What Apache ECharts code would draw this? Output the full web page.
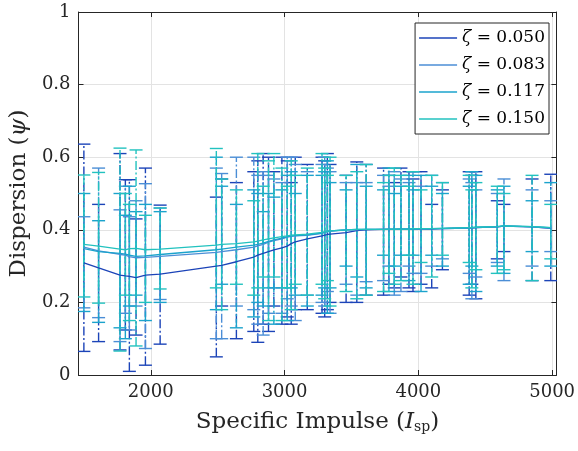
<!DOCTYPE html>
<html>
<head>
<meta charset="utf-8">
<script src="https://cdn.jsdelivr.net/npm/echarts@6/dist/echarts.min.js"></script>
<style>html,body{margin:0;padding:0;background:#fff}#c{width:578px;height:451px}</style>
</head>
<body>
<div id="c"></div>
<script>
const isp = [1500,1610,1770,1810,1840,1890,1960,2070,2490,2530,2640,2770,2800,2840,2880,2920,2980,3020,3050,3080,3170,3280,3300,3320,3340,3460,3540,3610,3740,3780,3820,3870,3930,3960,4020,4100,4180,4380,4400,4430,4590,4640,4850,4990];

const mean050 = [.309,.295,.275,.273,.272,.268,.275,.278,.300,.302,.312,.325,.330,.335,.340,.345,.350,.355,.362,.367,.375,.383,.385,.387,.388,.392,.398,.400,.401,.401,.401,.402,.402,.402,.402,.402,.403,.405,.405,.406,.408,.410,.408,.404];
const mean083 = [.352,.342,.332,.330,.326,.323,.324,.327,.338,.340,.345,.352,.356,.360,.366,.370,.375,.380,.382,.383,.385,.390,.393,.395,.396,.400,.400,.401,.401,.401,.401,.402,.402,.402,.402,.403,.403,.405,.405,.406,.408,.410,.408,.405];
const mean117 = [.348,.340,.335,.333,.330,.327,.328,.332,.345,.347,.352,.358,.360,.363,.368,.372,.377,.381,.383,.384,.386,.391,.394,.396,.397,.400,.401,.401,.401,.402,.402,.402,.402,.402,.403,.403,.404,.406,.406,.407,.409,.411,.409,.406];
const mean150 = [.360,.355,.347,.345,.348,.349,.345,.347,.358,.360,.362,.367,.369,.372,.375,.378,.381,.383,.385,.386,.388,.393,.395,.396,.397,.400,.401,.401,.401,.402,.402,.402,.402,.403,.403,.403,.404,.406,.406,.407,.409,.411,.409,.406];

const lo050 = [.065,.092,.069,.124,.010,.110,.027,.085,.050,.190,.100,.120,.090,.140,.120,.190,.140,.160,.140,.180,.180,.170,.160,.180,.200,.200,.200,.220,.220,.250,.240,.270,.240,.230,.250,.240,.290,.220,.250,.210,.320,.340,.260,.260];
const hi050 = [.636,.470,.610,.538,.538,.430,.570,.468,.490,.540,.530,.560,.590,.610,.600,.560,.600,.590,.530,.600,.580,.600,.590,.610,.580,.550,.587,.580,.570,.550,.530,.570,.560,.540,.560,.470,.510,.560,.550,.560,.480,.470,.540,.553];
const lo083 = [.185,.158,.092,.170,.124,.190,.073,.208,.100,.100,.190,.180,.140,.110,.170,.240,.170,.210,.190,.150,.220,.200,.190,.230,.170,.250,.220,.257,.260,.300,.220,.230,.300,.280,.280,.300,.320,.280,.210,.270,.310,.260,.300,.340];
const hi083 = [.436,.570,.455,.520,.436,.480,.527,.460,.570,.555,.600,.600,.550,.560,.550,.540,.530,.600,.600,.580,.560,.580,.600,.570,.560,.530,.530,.530,.550,.520,.560,.540,.530,.560,.520,.550,.530,.540,.530,.510,.500,.540,.510,.480];
const lo117 = [.175,.145,.130,.100,.190,.220,.150,.200,.180,.250,.130,.160,.200,.190,.240,.140,.240,.150,.240,.220,.190,.220,.240,.170,.240,.300,.270,.240,.330,.230,.300,.330,.260,.330,.230,.330,.300,.250,.300,.230,.300,.280,.340,.300];
const hi117 = [.500,.425,.500,.440,.520,.450,.470,.450,.600,.520,.470,.510,.500,.450,.500,.490,.510,.550,.560,.500,.550,.550,.560,.590,.530,.510,.580,.520,.510,.570,.500,.520,.550,.510,.550,.520,.500,.520,.560,.550,.510,.520,.480,.530];
const lo150 = [.215,.198,.066,.220,.150,.080,.200,.237,.240,.180,.250,.220,.240,.270,.150,.270,.150,.240,.180,.250,.220,.250,.210,.260,.190,.230,.210,.220,.230,.280,.250,.260,.330,.250,.310,.270,.330,.310,.240,.290,.280,.290,.260,.320];
const hi150 = [.551,.558,.625,.500,.470,.620,.440,.460,.624,.540,.510,.480,.610,.520,.590,.610,.570,.520,.590,.550,.570,.610,.570,.550,.600,.550,.560,.580,.530,.550,.570,.550,.520,.560,.510,.550,.530,.550,.510,.530,.520,.500,.550,.470];

const seriesNames = ['ζ = 0.050','ζ = 0.083','ζ = 0.117','ζ = 0.150'];
const xTicks = [2000,3000,4000,5000];

const colors = ['#1c44b8','#4b8ed6','#1ba3cc','#22c2bf'];
const means = [mean050, mean083, mean117, mean150];
const los = [lo050, lo083, lo117, lo150];
const his = [hi050, hi083, hi117, hi150];

const FONT = 'DejaVu Serif';
const AX = '#262626';

function errRender(color){
  return function(params, api){
    const x = api.value(0), lo = api.value(1), hi = api.value(2);
    const a = api.coord([x, lo]), b = api.coord([x, hi]);
    const w = 6.5;
    return {type:'group', children:[
      {type:'line', shape:{x1:a[0],y1:a[1],x2:b[0],y2:b[1]}, style:{stroke:color,lineWidth:1.4,lineDash:[9,2.5,2,2.5]}},
      {type:'line', shape:{x1:a[0]-w,y1:a[1],x2:a[0]+w,y2:a[1]}, style:{stroke:color,lineWidth:1.4}},
      {type:'line', shape:{x1:b[0]-w,y1:b[1],x2:b[0]+w,y2:b[1]}, style:{stroke:color,lineWidth:1.4}}
    ]};
  };
}

const series = [];
for (let s = 0; s < 4; s++) {
  series.push({
    type:'custom', name:'err'+s, renderItem: errRender(colors[s]), clip:true,
    data: isp.map((x,i)=>[x, los[s][i], his[s][i]]), silent:true, z:2
  });
  series.push({
    type:'line', name: seriesNames[s], symbol:'none', showSymbol:false, clip:true,
    data: isp.map((x,i)=>[x, means[s][i]]),
    lineStyle:{color:colors[s], width:1.3}, itemStyle:{color:colors[s]}, z:2
  });
}

const chart = echarts.init(document.getElementById('c'), null, {renderer:'canvas'});
chart.setOption({
  animation:false,
  backgroundColor:'#fff',
  grid:{left:75, right:18, top:12, bottom:76, containLabel:false},
  xAxis:[{
    type:'value', min:1460, max:5032, position:'bottom',
    name:'Specific Impulse ({i|I}{s|sp})', nameLocation:'middle', nameGap:36,
    nameTextStyle:{fontFamily:FONT, fontSize:23, color:AX,
      rich:{i:{fontFamily:FONT,fontSize:23,fontStyle:'italic',color:AX}, s:{fontFamily:FONT,fontSize:14,color:AX,verticalAlign:'bottom'}}},
    axisLine:{onZero:false, lineStyle:{color:AX,width:1}},
    axisTick:{inside:true, length:5, customValues:xTicks, lineStyle:{color:AX}},
    axisLabel:{customValues:xTicks, fontFamily:FONT, fontSize:18, color:AX, margin:8, formatter:v=>String(v)},
    splitLine:{show:true, lineStyle:{color:'#e3e3e3', width:1}}
  },{
    type:'value', min:1460, max:5032, position:'top',
    axisLine:{onZero:false, lineStyle:{color:AX,width:1}},
    axisTick:{inside:true, length:5, customValues:xTicks, lineStyle:{color:AX}},
    axisLabel:{show:false}, splitLine:{show:false}
  }],
  yAxis:[{
    type:'value', min:0, max:1, interval:0.2, position:'left',
    name:'Dispersion ({p|ψ})', nameLocation:'middle', nameGap:40,
    nameTextStyle:{fontFamily:FONT, fontSize:23, color:AX,
      rich:{p:{fontFamily:FONT,fontSize:23,fontStyle:'italic',color:AX}}},
    axisLine:{show:true, onZero:false, lineStyle:{color:AX,width:1}},
    axisTick:{show:true, inside:true, length:5, lineStyle:{color:AX}},
    axisLabel:{fontFamily:FONT, fontSize:18, color:AX, margin:8,
      formatter:v=> (v===0?'0':(v===1?'1':v.toFixed(1)))},
    splitLine:{show:true, lineStyle:{color:'#e3e3e3', width:1}}
  },{
    type:'value', min:0, max:1, interval:0.2, position:'right',
    axisLine:{show:true, onZero:false, lineStyle:{color:AX,width:1}},
    axisTick:{show:true, inside:true, length:5, lineStyle:{color:AX}},
    axisLabel:{show:false}, splitLine:{show:false}
  }],
  legend:{
    data:seriesNames, orient:'vertical', right:29, top:23,
    backgroundColor:'#fff', borderColor:AX, borderWidth:1, borderRadius:0,
    padding:[5,4,5,4], itemGap:7, itemWidth:38, itemHeight:1.6, icon:'rect',
    formatter:n=>n.replace('ζ','{z|ζ}'),
    textStyle:{fontFamily:FONT, fontSize:17, color:'#000', lineHeight:20,
      rich:{z:{fontFamily:FONT,fontSize:17,fontStyle:'italic',color:'#000',lineHeight:20}}}
  },
  series:series
});
</script>
</body>
</html>
